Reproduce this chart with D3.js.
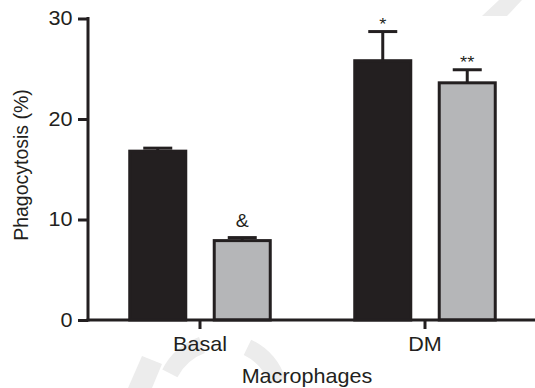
<!DOCTYPE html>
<html>
<head>
<meta charset="utf-8">
<script src="https://cdn.jsdelivr.net/npm/d3@7"></script>
<style>
  body { margin: 0; background: #fff; }
  svg { font-family: "Liberation Sans", Arial, sans-serif; }
</style>
</head>
<body>
<svg id="chart"></svg>
<script>
const width = 535
const height = 388

// data
const categories = ["Basal", "DM"]
const series = ["Control", "Treated"]
const means = { Control: [16.8, 25.8], Treated: [7.9, 23.6] }
const errors = { Control: [0.3, 2.9], Treated: [0.3, 1.3] }
const marks = { Control: ["", "*"], Treated: ["&", "**"] }
const yTicks = [0, 10, 20, 30]
const fills = { Control: "#231f20", Treated: "#b5b6b8" }
const ink = "#231f20"
const sx = 1.08 // the source figure is a little wider than tall

const svg = d3.select("#chart")
    .attr("width", width)
    .attr("height", height)

// faint watermark strokes behind the chart
const wm = svg.append("g").attr("fill", "#ececec")
wm.append("path").attr("d", "M482,16 L507,16 L522,0 L499,0 Z")
wm.append("path").attr("d", "M128,388 L152,388 L162,364 L142,356 Z")
const arc = d3.arc().innerRadius(50).outerRadius(67)
wm.append("path")
    .attr("transform", "translate(222,400)")
    .attr("d", arc({ startAngle: -1.1, endAngle: -0.35 }))
wm.append("path")
    .attr("transform", "translate(222,400)")
    .attr("d", arc({ startAngle: 0.45, endAngle: 1.25 }))

const y = d3.scaleLinear().domain([0, 30]).range([320, 18.5])
const x0 = d3.scaleBand().domain(categories).range([87.5, 537.5]).padding(0)
const x1 = d3.scaleBand().domain(series).range([0, x0.bandwidth()])
    .paddingInner(0.337).paddingOuter(0.5)

const rows = categories.flatMap((c, i) => series.map(s => ({
    cat: c, s, v: means[s][i], e: errors[s][i], mark: marks[s][i]
})))

const g = svg.append("g")

// error bars (drawn first so the bar outline covers the stem)
const cap = x1.bandwidth() / 2 + 1
const eb = g.append("g")
    .attr("stroke", ink)
    .attr("stroke-width", 3)
    .selectAll("g")
    .data(rows)
    .join("g")
    .attr("transform", d => `translate(${x0(d.cat) + x1(d.s) + x1.bandwidth() / 2},0)`)
eb.append("line")
    .attr("y1", d => y(d.v))
    .attr("y2", d => y(d.v + d.e))
eb.append("line")
    .attr("x1", -cap / 2)
    .attr("x2", cap / 2)
    .attr("y1", d => y(d.v + d.e))
    .attr("y2", d => y(d.v + d.e))

g.append("g")
    .selectAll("rect")
    .data(rows)
    .join("rect")
    .attr("x", d => x0(d.cat) + x1(d.s))
    .attr("y", d => y(d.v))
    .attr("width", x1.bandwidth())
    .attr("height", d => y(0) - y(d.v))
    .attr("fill", d => fills[d.s])
    .attr("stroke", ink)
    .attr("stroke-width", 3)

// significance marks
g.append("g")
    .selectAll("text")
    .data(rows.filter(d => d.mark))
    .join("text")
    .attr("transform", d => {
        const cx = x0(d.cat) + x1(d.s) + x1.bandwidth() / 2
        const cy = d.mark === "&" ? y(d.v + d.e) - 11 : y(d.v + d.e) - 2
        return `translate(${cx},${cy}) scale(${sx},1)`
    })
    .attr("text-anchor", "middle")
    .attr("font-size", d => d.mark === "&" ? 18 : 17)
    .attr("fill", ink)
    .text(d => d.mark)

// axes
const yAxis = svg.append("g")
    .attr("transform", "translate(88,0)")
    .call(d3.axisLeft(y).tickValues(yTicks).tickSize(10).tickPadding(5).tickSizeOuter(0))
yAxis.select(".domain").attr("stroke", ink).attr("stroke-width", 3)
    .attr("d", `M0,${y(30) - 1.5}V${y(0) + 1.5}`)
yAxis.selectAll(".tick line").attr("stroke", ink).attr("stroke-width", 3)
yAxis.selectAll(".tick text").attr("font-size", 20).attr("fill", ink)
    .attr("font-family", "Liberation Sans, Arial, sans-serif")
    .attr("x", -15.5 / sx)
    .attr("transform", `scale(${sx},1)`)

const xAxis = svg.append("g")
    .attr("transform", `translate(0,${y(0)})`)
    .call(d3.axisBottom(x0).tickSize(9).tickPadding(8).tickSizeOuter(0))
xAxis.select(".domain").attr("stroke", ink).attr("stroke-width", 3)
    .attr("d", `M86.5,0H${width}`)
xAxis.selectAll(".tick line").attr("stroke", ink).attr("stroke-width", 3)
xAxis.selectAll(".tick text").attr("font-size", 20).attr("fill", ink)
    .attr("font-family", "Liberation Sans, Arial, sans-serif")
    .attr("transform", `scale(${sx},1)`)

svg.append("text")
    .attr("transform", `translate(307,383) scale(${sx},1)`)
    .attr("text-anchor", "middle")
    .attr("font-size", 20)
    .attr("fill", ink)
    .text("Macrophages")

svg.append("text")
    .attr("transform", `translate(28,165) rotate(-90) scale(1,${sx})`)
    .attr("text-anchor", "middle")
    .attr("font-size", 19.5)
    .attr("fill", ink)
    .text("Phagocytosis (%)")
</script>
</body>
</html>
